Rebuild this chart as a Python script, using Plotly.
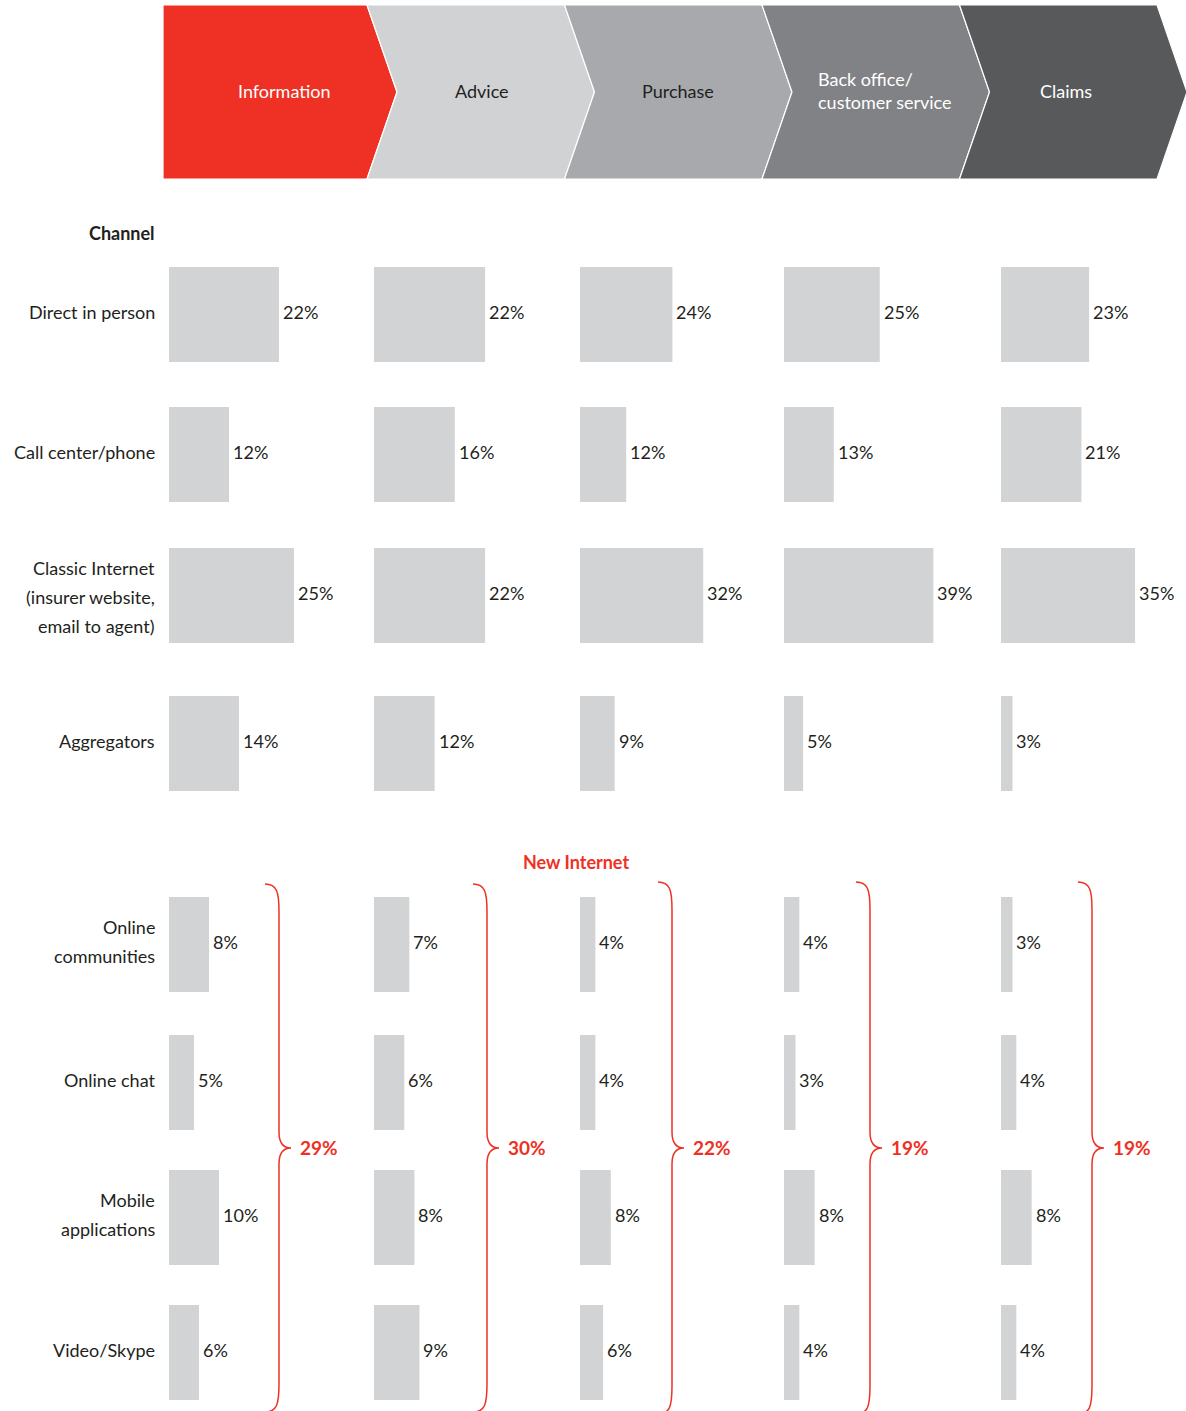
import plotly.graph_objects as go

# ---------------- data ----------------
stages = ["Information", "Advice", "Purchase", "Back office/<br>customer service", "Claims"]
channels = ["Direct in person", "Call center/phone",
            "Classic Internet<br>(insurer website,<br>email to agent)", "Aggregators",
            "Online<br>communities", "Online chat", "Mobile<br>applications", "Video/Skype"]
information = [22, 12, 25, 14, 8, 5, 10, 6]
advice = [22, 16, 22, 12, 7, 6, 8, 9]
purchase = [24, 12, 32, 9, 4, 4, 8, 6]
back_office = [25, 13, 39, 5, 4, 3, 8, 4]
claims = [23, 21, 35, 3, 3, 4, 8, 4]
new_internet_totals = [29, 30, 22, 19, 19]

series = [information, advice, purchase, back_office, claims]

# ---------------- layout constants (pixels) ----------------
W, H = 1186, 1411
FONT = "Lato, 'Open Sans', sans-serif"
TXT = "#231F20"
RED = "#EE3124"
BAR = "#D1D3D4"
row_y = [314.5, 454.5, 595.5, 743.5, 944.5, 1082.5, 1217.5, 1352.5]
bar_h = 95
col_left = [169, 374, 580, 784, 1001]
col_scale = [5.0, 5.05, 3.85, 3.83, 3.83]   # px per percentage point
col_span = [200, 200, 200, 200, 185]
stage_fill = [RED, "#D1D2D4", "#A7A9AC", "#808285", "#58595B"]
stage_text = ["white", TXT, TXT, "white", "white"]
stage_cx = [284, 482, 678, 816, 1066]
brace_x = [279, 487, 672, 870, 1092]
brace_top = [884, 884, 882, 882, 882]
brace_mid = 1148
TY = 3  # text baseline correction (px up)


def px(x):
    return x / W


def py(y):
    return 1 - y / H


fig = go.Figure()
annotations = []

for i, vals in enumerate(series):
    ax = "x" if i == 0 else f"x{i+1}"
    fig.add_trace(go.Bar(
        x=vals, y=row_y, orientation="h", width=bar_h,
        marker=dict(color=BAR, line=dict(width=0)),
        cliponaxis=False, xaxis=ax, yaxis="y", hoverinfo="skip",
        showlegend=False,
    ))
    key = "xaxis" if i == 0 else f"xaxis{i+1}"
    fig.layout[key] = dict(
        domain=[px(col_left[i]), px(col_left[i] + col_span[i])],
        range=[0, col_span[i] / col_scale[i]], visible=False,
        anchor="y", fixedrange=True,
    )
    for v, yc in zip(vals, row_y):
        annotations.append(dict(xref=ax, yref="y", x=v, y=yc, xanchor="left",
                                yanchor="middle", xshift=2, yshift=TY,
                                text=f"{v}%", showarrow=False,
                                font=dict(family=FONT, size=18, color=TXT)))

fig.update_layout(
    yaxis=dict(domain=[0, 1], range=[H, 0], visible=False, fixedrange=True),
    width=W, height=H, margin=dict(l=0, r=0, t=0, b=0),
    plot_bgcolor="white", paper_bgcolor="white",
    barmode="overlay", font=dict(family=FONT, color=TXT),
)

shapes = []

# header chevrons
top, bot, mid = 5, 179, 92
step = 197.5
for i, name in enumerate(stages):
    xr = 367 + i * step
    if i == 0:
        pts = [(163, top), (xr, top), (xr + 30, mid), (xr, bot), (163, bot)]
    else:
        xl = xr - step
        pts = [(xl, top), (xr, top), (xr + 30, mid), (xr, bot), (xl, bot), (xl + 30, mid)]
    path = "M " + " L ".join(f"{px(a):.5f},{py(b):.5f}" for a, b in pts) + " Z"
    shapes.append(dict(type="path", xref="paper", yref="paper", path=path,
                       fillcolor=stage_fill[i], line=dict(color="white", width=1.2),
                       layer="below"))
    multi = "<br>" in name
    annotations.append(dict(xref="paper", yref="paper", x=px(stage_cx[i]), y=py(91),
                            xanchor="left" if multi else "center", yanchor="middle",
                            align="left", text=name, showarrow=False,
                            font=dict(family=FONT, size=18, color=stage_text[i])))

# "Channel" heading
annotations.append(dict(xref="paper", yref="y", x=px(157), y=233, xanchor="right",
                        yanchor="middle", text="<b>Channel</b>", showarrow=False,
                        font=dict(family=FONT, size=18, color=TXT)))

# row labels
line_gap = 29
for lab, yc in zip(channels, row_y):
    lines = lab.split("<br>")
    n = len(lines)
    for k, ln in enumerate(lines):
        yy = yc + (k - (n - 1) / 2) * line_gap + (4 if n == 3 else 0)
        annotations.append(dict(xref="paper", yref="y", x=px(157), y=yy,
                                xanchor="right", yanchor="middle", text=ln,
                                showarrow=False, yshift=TY,
                                font=dict(family=FONT, size=18, color=TXT)))

# New Internet heading
annotations.append(dict(xref="paper", yref="y", x=px(576), y=862, xanchor="center",
                        yanchor="middle", text="<b>New Internet</b>", showarrow=False,
                        font=dict(family=FONT, size=18, color=RED)))

# braces
for i, tot in enumerate(new_internet_totals):
    xv = brace_x[i]
    yt = brace_top[i]
    ym = brace_mid
    yb = ym + (ym - yt)
    x0 = xv - 14
    pts_path = [
        ("M", [(x0, yt)]),
        ("C", [(xv - 2, yt), (xv, yt + 8), (xv, yt + 28)]),
        ("L", [(xv, ym - 16)]),
        ("C", [(xv, ym - 4), (xv + 5, ym), (xv + 12, ym)]),
        ("C", [(xv + 5, ym), (xv, ym + 4), (xv, ym + 16)]),
        ("L", [(xv, yb - 28)]),
        ("C", [(xv, yb - 8), (xv - 2, yb), (x0, yb)]),
    ]
    path = " ".join(cmd + " " + " ".join(f"{px(a):.5f},{py(b):.5f}" for a, b in p)
                    for cmd, p in pts_path)
    shapes.append(dict(type="path", xref="paper", yref="paper", path=path,
                       line=dict(color=RED, width=1.5)))
    annotations.append(dict(xref="paper", yref="y", x=px(xv + 19), y=ym - 1,
                            xanchor="left", yanchor="middle", text=f"<b>{tot}%</b>",
                            showarrow=False,
                            font=dict(family=FONT, size=19, color=RED)))

fig.update_layout(shapes=shapes, annotations=annotations)

fig.write_html("out.html", config={"displayModeBar": False},
               post_script="document.body.style.margin='0';")
